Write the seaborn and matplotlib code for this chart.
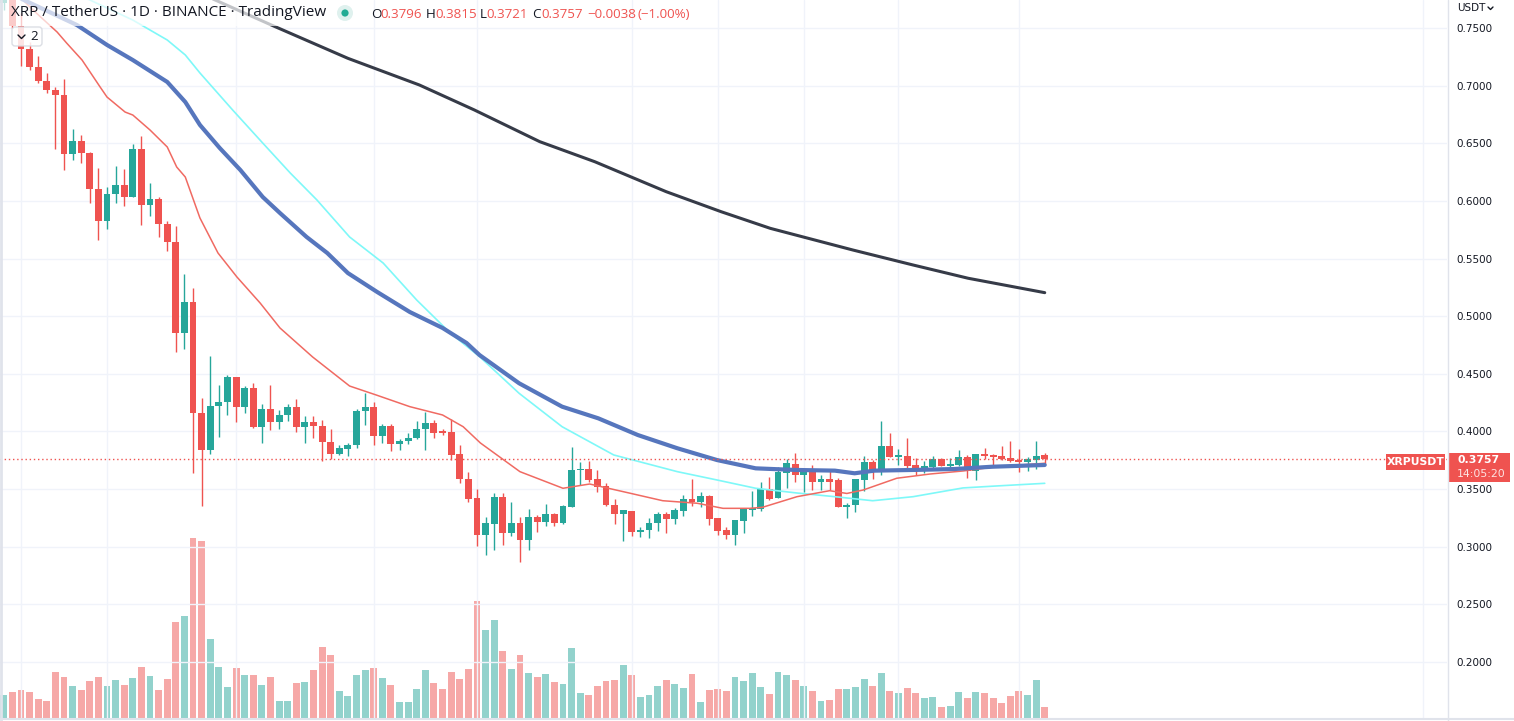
import numpy as np
import pandas as pd
import matplotlib
matplotlib.use("Agg")
import matplotlib.pyplot as plt
import seaborn as sns
from matplotlib.patches import Rectangle, FancyBboxPatch, Circle
from matplotlib.lines import Line2D
from matplotlib.transforms import IdentityTransform

# daily candles, XRP / USDT
opens = [0.7720, 0.7850, 0.7517, 0.7315, 0.7164, 0.7040, 0.6962, 0.6919, 0.6410, 0.6520,
         0.6416, 0.6103, 0.5828, 0.6060, 0.6138, 0.6036, 0.6450, 0.5967, 0.6017, 0.5800,
         0.5646, 0.4857, 0.5126, 0.4163, 0.3842, 0.4221, 0.4256, 0.4472, 0.4215, 0.4377,
         0.4041, 0.4195, 0.4085, 0.4143, 0.4212, 0.4041, 0.4082, 0.4050, 0.3911, 0.3807,
         0.3850, 0.3885, 0.4178, 0.4212, 0.3963, 0.4047, 0.3894, 0.3920, 0.3946, 0.4024,
         0.4073, 0.4006, 0.3998, 0.3804, 0.3590, 0.3425, 0.3104, 0.3200, 0.3434, 0.3122,
         0.3206, 0.3061, 0.3261, 0.3217, 0.3284, 0.3209, 0.3347, 0.3666, 0.3674, 0.3590,
         0.3530, 0.3365, 0.3287, 0.3313, 0.3130, 0.3148, 0.3209, 0.3287, 0.3243, 0.3313,
         0.3417, 0.3391, 0.3443, 0.3252, 0.3148, 0.3104, 0.3226, 0.3321, 0.3330, 0.3501,
         0.3425, 0.3640, 0.3718, 0.3625, 0.3668, 0.3564, 0.3588, 0.3579, 0.3347, 0.3365,
         0.3582, 0.3735, 0.3668, 0.3874, 0.3781, 0.3787, 0.3709, 0.3683, 0.3692, 0.3761,
         0.3700, 0.3709, 0.3778, 0.3657, 0.3804, 0.3796, 0.3787, 0.3770, 0.3752, 0.3735,
         0.3752, 0.3796]
highs = [0.7900, 0.7880, 0.7630, 0.7379, 0.7257, 0.7112, 0.6991, 0.7055, 0.6624, 0.6572,
         0.6424, 0.6286, 0.6121, 0.6303, 0.6279, 0.6494, 0.6563, 0.6158, 0.6034, 0.5826,
         0.5782, 0.5366, 0.5244, 0.4290, 0.4655, 0.4403, 0.4490, 0.4475, 0.4394, 0.4420,
         0.4238, 0.4403, 0.4186, 0.4238, 0.4282, 0.4134, 0.4134, 0.4099, 0.4021, 0.3882,
         0.3903, 0.4195, 0.4334, 0.4255, 0.4065, 0.4065, 0.3937, 0.3989, 0.4091, 0.4171,
         0.4099, 0.4024, 0.4111, 0.3885, 0.3651, 0.3503, 0.3261, 0.3466, 0.3466, 0.3388,
         0.3261, 0.3327, 0.3278, 0.3371, 0.3293, 0.3362, 0.3865, 0.3735, 0.3744, 0.3666,
         0.3555, 0.3417, 0.3321, 0.3313, 0.3174, 0.3252, 0.3304, 0.3304, 0.3339, 0.3451,
         0.3590, 0.3478, 0.3450, 0.3252, 0.3174, 0.3235, 0.3339, 0.3486, 0.3562, 0.3605,
         0.3692, 0.3761, 0.3813, 0.3666, 0.3709, 0.3622, 0.3657, 0.3596, 0.3382, 0.3588,
         0.3787, 0.3752, 0.4091, 0.3987, 0.3848, 0.3943, 0.3770, 0.3744, 0.3787, 0.3770,
         0.3770, 0.3839, 0.3796, 0.3804, 0.3856, 0.3800, 0.3874, 0.3917, 0.3848, 0.3778,
         0.3917, 0.3815]
lows = [0.7656, 0.7500, 0.7170, 0.7136, 0.7020, 0.6939, 0.6448, 0.6268, 0.6355, 0.6331,
        0.5984, 0.5661, 0.5756, 0.5984, 0.5956, 0.6036, 0.5794, 0.5869, 0.5690, 0.5568,
        0.4692, 0.4715, 0.3642, 0.3353, 0.3807, 0.3955, 0.4145, 0.4085, 0.4163, 0.4033,
        0.3903, 0.4015, 0.4024, 0.4093, 0.3998, 0.3903, 0.3946, 0.3746, 0.3764, 0.3798,
        0.3790, 0.3859, 0.4059, 0.3885, 0.3903, 0.3833, 0.3842, 0.3894, 0.3937, 0.3842,
        0.3946, 0.3972, 0.3755, 0.3555, 0.3391, 0.3009, 0.2931, 0.2974, 0.3017, 0.3096,
        0.2871, 0.2974, 0.3130, 0.3183, 0.3183, 0.3200, 0.3347, 0.3538, 0.3564, 0.3478,
        0.3356, 0.3200, 0.3052, 0.3096, 0.3087, 0.3078, 0.3139, 0.3122, 0.3200, 0.3269,
        0.3356, 0.3347, 0.3191, 0.3104, 0.3070, 0.3017, 0.3122, 0.3269, 0.3313, 0.3408,
        0.3425, 0.3512, 0.3564, 0.3478, 0.3495, 0.3495, 0.3495, 0.3347, 0.3252, 0.3304,
        0.3486, 0.3590, 0.3625, 0.3781, 0.3709, 0.3666, 0.3622, 0.3640, 0.3674, 0.3700,
        0.3674, 0.3700, 0.3596, 0.3579, 0.3761, 0.3692, 0.3752, 0.3735, 0.3648, 0.3657,
        0.3674, 0.3721]
closes = [0.7850, 0.7517, 0.7315, 0.7164, 0.7040, 0.6962, 0.6919, 0.6410, 0.6520, 0.6416,
          0.6103, 0.5828, 0.6060, 0.6138, 0.6036, 0.6450, 0.5967, 0.6017, 0.5800, 0.5646,
          0.4857, 0.5126, 0.4163, 0.3842, 0.4221, 0.4256, 0.4472, 0.4215, 0.4377, 0.4041,
          0.4195, 0.4085, 0.4143, 0.4212, 0.4041, 0.4082, 0.4050, 0.3911, 0.3807, 0.3857,
          0.3885, 0.4178, 0.4212, 0.3963, 0.4047, 0.3894, 0.3920, 0.3946, 0.4024, 0.4073,
          0.3989, 0.3989, 0.3798, 0.3590, 0.3417, 0.3104, 0.3206, 0.3434, 0.3122, 0.3206,
          0.3061, 0.3261, 0.3217, 0.3284, 0.3209, 0.3353, 0.3666, 0.3675, 0.3582, 0.3521,
          0.3365, 0.3287, 0.3321, 0.3130, 0.3148, 0.3209, 0.3287, 0.3243, 0.3321, 0.3417,
          0.3391, 0.3443, 0.3243, 0.3139, 0.3104, 0.3235, 0.3330, 0.3339, 0.3501, 0.3417,
          0.3648, 0.3726, 0.3625, 0.3666, 0.3564, 0.3588, 0.3564, 0.3347, 0.3365, 0.3588,
          0.3735, 0.3668, 0.3874, 0.3781, 0.3787, 0.3700, 0.3683, 0.3700, 0.3761, 0.3700,
          0.3718, 0.3778, 0.3657, 0.3804, 0.3787, 0.3778, 0.3761, 0.3744, 0.3735, 0.3761,
          0.3787, 0.3757]
volume_m = [23, 26, 28, 26, 19, 17, 46, 41, 32, 28, 37, 41, 32, 38, 33, 40, 51, 42, 28, 39,
            96, 102, 180, 177, 79, 51, 31, 50, 43, 43, 33, 41, 17, 17, 35, 36, 48, 71, 63, 27,
            22, 43, 48, 50, 40, 33, 16, 16, 29, 48, 35, 29, 46, 39, 49, 117, 88, 98, 67, 49,
            63, 44.7, 40.7, 43.7, 35.7, 33.7, 69.7, 24.7, 22.7, 31.7, 36.7, 37.7, 52.7, 42.7,
            20.7, 22.7, 31.7, 37.7, 33.7, 29.7, 43.7, 15.7, 27.7, 28.7, 26.7, 40.7, 36.7, 44.7,
            30.7, 23.7, 45.7, 42.7, 37.7, 31.7, 26.7, 16.7, 17.7, 28.7, 28.7, 30.7, 38.7, 31.7,
            44.7, 26.7, 24.7, 29.7, 24.7, 19.7, 20.7, 10.7, 11.7, 25.7, 19.7, 25.7, 24.7, 19.7,
            14.7, 21.7, 26.7, 22.7, 37.7, 10.7]

# moving averages (day index, value)
ma_red_day = [2, 3.4, 6.2, 7.3, 9.1, 11.2, 12.0, 14.1, 15.0, 17.0, 19.0, 20.1, 21.1, 22.8,
              24.9, 27.1, 29.8, 32.1, 35.9, 40.2, 43.3, 47.2, 51.0, 53.4, 55.4, 60.0, 65.0,
              68.1, 72.8, 76.6, 80.6, 83.6, 86.7, 88.2, 92.2, 96.0, 98.0, 99.9, 103.8, 107.7,
              111.5, 115.4, 121]
ma_red = [0.7760, 0.7656, 0.7465, 0.7370, 0.7222, 0.6988, 0.6901, 0.6771, 0.6745, 0.6615,
          0.6468, 0.6294, 0.6207, 0.5852, 0.5548, 0.5340, 0.5114, 0.4898, 0.4646, 0.4394,
          0.4316, 0.4215, 0.4143, 0.4041, 0.3900, 0.3651, 0.3507, 0.3544, 0.3464, 0.3399,
          0.3377, 0.3333, 0.3333, 0.3342, 0.3434, 0.3486, 0.3462, 0.3492, 0.3594, 0.3631,
          0.3657, 0.3694, 0.3724]
ma_cyan_day = [9.5, 15.0, 19.0, 21.1, 22.8, 26.6, 30.1, 33.3, 36.4, 40.2, 44.1, 48.0, 51.9,
               55.3, 59.9, 64.9, 70.9, 78.3, 82.9, 87.4, 92.2, 96.6, 101.0, 105.7, 111.5,
               115.4, 121]
ma_cyan = [0.7761, 0.7569, 0.7396, 0.7266, 0.7110, 0.6789, 0.6502, 0.6242, 0.6008, 0.5687,
           0.5461, 0.5140, 0.4854, 0.4649, 0.4331, 0.4041, 0.3796, 0.3651, 0.3579, 0.3507,
           0.3466, 0.3434, 0.3399, 0.3434, 0.3510, 0.3527, 0.3550]
ma_blue_day = [1, 8.5, 12.0, 15.0, 19.0, 21.1, 22.8, 25.1, 27.5, 30.1, 32.1, 35.2, 37.6,
               40.0, 43.4, 47.2, 51.0, 53.8, 55.3, 59.9, 64.9, 69.1, 73.7, 78.3, 82.9, 87.4,
               92.0, 96.6, 98.9, 101.2, 105.8, 110.5, 114.9, 121]
ma_blue = [0.7790, 0.7526, 0.7353, 0.7222, 0.7032, 0.6858, 0.6659, 0.6459, 0.6268, 0.6034,
           0.5895, 0.5687, 0.5548, 0.5374, 0.5210, 0.5036, 0.4898, 0.4767, 0.4663, 0.4418,
           0.4215, 0.4114, 0.3969, 0.3854, 0.3752, 0.3680, 0.3666, 0.3660, 0.3637, 0.3660,
           0.3666, 0.3674, 0.3694, 0.3709]
ma_dark_day = [24, 31.1, 40.0, 48.3, 54.7, 62.3, 68.7, 77.0, 83.4, 89.1, 98.7, 105.7, 112.1, 121]
ma_dark = [0.7762, 0.7526, 0.7237, 0.7006, 0.6789, 0.6514, 0.6340, 0.6080, 0.5906, 0.5762,
           0.5574, 0.5444, 0.5329, 0.5204]

price_ticks = [0.20, 0.25, 0.30, 0.35, 0.40, 0.45, 0.50, 0.55, 0.60, 0.65, 0.70, 0.75]
day_lines = [2, 12, 27, 43, 55, 73, 83, 93, 104, 118, 165]
last_price = 0.3757

UP = "#26a69a"
DOWN = "#ef5350"
W, H = 1514, 721

sns.set_theme(style="white")
plt.rcParams["font.family"] = ["DejaVu Sans"]

df = pd.DataFrame({"open": opens, "high": highs, "low": lows, "close": closes, "vol": volume_m})
df["day"] = np.arange(len(df))
df["up"] = df["close"] >= df["open"]
df["color"] = np.where(df["up"], UP, DOWN)

fig = plt.figure(figsize=(W / 100, H / 100), dpi=100)
rect = [0, 3 / H, 1447 / W, 718 / H]
vax = fig.add_axes(rect)
ax = fig.add_axes(rect)
ax.patch.set_alpha(0)
xlim = (-0.44, 167.76)

# volume
vax.bar(df["day"], df["vol"], width=0.8, color=df["color"], alpha=0.5, linewidth=0)
vax.set_xlim(*xlim)
vax.set_ylim(0, max(volume_m) * 3.99)
vax.axis("off")

# grid
for p in price_ticks:
    ax.axhline(p, color="#f0f3fa", lw=1, zorder=0)
for d in day_lines:
    ax.axvline(d, color="#f0f3fa", lw=1, zorder=0)

# candles
ax.vlines(df["day"], df["low"], df["high"], colors=df["color"], lw=1, zorder=2)
body = (df["close"] - df["open"]).abs().clip(lower=0.0012)
ax.bar(df["day"], body, bottom=df[["open", "close"]].min(axis=1), width=0.8,
       color=df["color"], linewidth=0, zorder=3)

# moving averages
sns.lineplot(x=ma_cyan_day, y=ma_cyan, ax=ax, color="#7ef8f8", lw=1.2, sort=False, zorder=4)
sns.lineplot(x=ma_red_day, y=ma_red, ax=ax, color="#f06a62", lw=1.1, sort=False, zorder=4)
sns.lineplot(x=ma_blue_day, y=ma_blue, ax=ax, color="#5676bd", lw=3.0, sort=False, zorder=5)
sns.lineplot(x=ma_dark_day, y=ma_dark, ax=ax, color="#363b48", lw=2.2, sort=False, zorder=5)

ax.axhline(last_price, color=DOWN, lw=1, linestyle=(0, (1, 2)), zorder=6)

ax.set_xlim(*xlim)
ax.set_ylim(0.1514, 0.7743)
ax.set_xticks([])
ax.yaxis.tick_right()
ax.set_yticks(price_ticks)
ax.set_yticklabels([f"{p:.4f}" for p in price_ticks])
ax.tick_params(axis="y", length=0, pad=7, labelsize=7.5, labelcolor="#131722")
for side in ["top", "left", "bottom", "right"]:
    ax.spines[side].set_visible(False)
ax.set_xlabel("")
ax.set_ylabel("")

T = IdentityTransform()


def fy(y):
    return H - y


# axis borders
fig.add_artist(Line2D([1447.5, 1447.5], [0, H], color="#e0e3eb", lw=1, transform=T))
fig.add_artist(Line2D([1, 1], [0, H], color="#e0e3eb", lw=2, transform=T))
fig.add_artist(Line2D([0, W], [fy(719), fy(719)], color="#e0e3eb", lw=1.5, transform=T))

# legend header
fig.add_artist(Rectangle((0, fy(26)), 332, 26, transform=T, fc="white", ec="none", alpha=0.7))
fig.text(11, fy(13), "XRP / TetherUS · 1D · BINANCE · TradingView", transform=T,
         va="center", ha="left", fontsize=11, color="#131722", family="Open Sans")
fig.add_artist(Circle((345, fy(13)), 8, transform=T, fc="#dff1ee", ec="none"))
fig.add_artist(Circle((345, fy(13)), 3.6, transform=T, fc="#22ab94", ec="none"))
ohlc = [("O", 371, "#131722"), ("0.3796", 380, DOWN), ("H", 426, "#131722"),
        ("0.3815", 435, DOWN), ("L", 480, "#131722"), ("0.3721", 486, DOWN),
        ("C", 532, "#131722"), ("0.3757", 541, DOWN), ("\u22120.0038", 587, DOWN),
        ("(\u22121.00%)", 637, DOWN)]
for s, x, c in ohlc:
    fig.text(x, fy(14), s, transform=T, va="center", ha="left", fontsize=9.6,
             color=c, family="Open Sans")

fig.add_artist(FancyBboxPatch((12, fy(46)), 30, 19, boxstyle="round,pad=0,rounding_size=3",
                              transform=T, fc="white", ec="#d6d9e0", lw=1, alpha=0.85))
fig.add_artist(Line2D([18, 21.5, 25], [fy(35), fy(38.5), fy(35)], color="#131722", lw=1,
                      transform=T))
fig.text(30, fy(36.5), "2", transform=T, va="center", ha="left", fontsize=9.5,
         color="#131722", family="Open Sans")

# price axis header
fig.text(1457, fy(8), "USDT", transform=T, va="center", ha="left", fontsize=7.5,
         color="#131722")
fig.add_artist(Line2D([1488, 1490.5, 1493], [fy(7), fy(9.5), fy(7)], color="#131722", lw=1,
                      transform=T))

# last price tags
fig.add_artist(Rectangle((1386, fy(470)), 59, 16, transform=T, fc=DOWN, ec="none"))
fig.text(1415.5, fy(462), "XRPUSDT", transform=T, va="center", ha="center", fontsize=7.8,
         color="white", weight="bold")
fig.add_artist(Rectangle((1448, fy(482)), 62, 29, transform=T, fc=DOWN, ec="none"))
fig.text(1457, fy(460), "0.3757", transform=T, va="center", ha="left", fontsize=7.8,
         color="white", weight="bold")
fig.text(1457, fy(474), "14:05:20", transform=T, va="center", ha="left", fontsize=7.8,
         color="#fde3e2")

fig.savefig("out.png", dpi=100)
